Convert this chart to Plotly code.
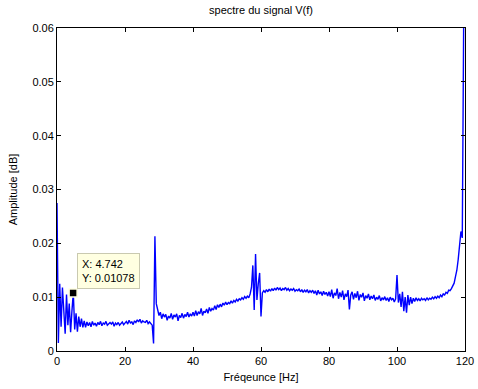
import plotly.graph_objects as go

freq_step_hz = 0.4
amplitude = [
    0.0275, 0.0015, 0.0125, 0.0045, 0.0118, 0.0060, 0.0032, 0.0105, 0.0048, 0.0088,
    0.0035, 0.0075, 0.0108, 0.0040, 0.0070, 0.0036, 0.0064, 0.0045, 0.0060, 0.0044,
    0.0056, 0.0044, 0.0054, 0.0047, 0.0053, 0.0045, 0.0055, 0.0048, 0.0052, 0.0046,
    0.0053, 0.0049, 0.0055, 0.0047, 0.0052, 0.0050, 0.0055, 0.0048, 0.0051, 0.0053,
    0.0050, 0.0054, 0.0046, 0.0052, 0.0049, 0.0053, 0.0048, 0.0051, 0.0054, 0.0049,
    0.0052, 0.0055, 0.0050, 0.0057, 0.0052, 0.0054, 0.0049, 0.0056, 0.0053, 0.0058,
    0.0054, 0.0059, 0.0052, 0.0056, 0.0054, 0.0053, 0.0057, 0.0051, 0.0054, 0.0050,
    0.0048, 0.0014, 0.0213, 0.0088, 0.0074, 0.0066, 0.0072, 0.0060, 0.0069, 0.0063,
    0.0068, 0.0057, 0.0065, 0.0061, 0.0070, 0.0059, 0.0067, 0.0063, 0.0069, 0.0056,
    0.0066, 0.0062, 0.0070, 0.0061, 0.0068, 0.0064, 0.0072, 0.0063, 0.0069, 0.0065,
    0.0072, 0.0065, 0.0075, 0.0066, 0.0073, 0.0069, 0.0079, 0.0066, 0.0074, 0.0071,
    0.0078, 0.0070, 0.0081, 0.0074, 0.0079, 0.0076, 0.0084, 0.0077, 0.0086, 0.0081,
    0.0087, 0.0082, 0.0089, 0.0085, 0.0091, 0.0086, 0.0090, 0.0088, 0.0093, 0.0089,
    0.0094, 0.0091, 0.0096, 0.0093, 0.0097, 0.0095, 0.0099, 0.0096, 0.0101, 0.0098,
    0.0102, 0.0099, 0.0106, 0.0118, 0.0159, 0.0076, 0.0180, 0.0095, 0.0125, 0.0145,
    0.0064, 0.0108, 0.0112, 0.0109, 0.0114, 0.0110, 0.0115, 0.0111, 0.0116, 0.0112,
    0.0117, 0.0113, 0.0118, 0.0114, 0.0117, 0.0112, 0.0116, 0.0114, 0.0118, 0.0113,
    0.0116, 0.0112, 0.0115, 0.0113, 0.0116, 0.0111, 0.0114, 0.0112, 0.0115, 0.0110,
    0.0114, 0.0109, 0.0113, 0.0110, 0.0114, 0.0108, 0.0112, 0.0109, 0.0113, 0.0107,
    0.0112, 0.0104, 0.0113, 0.0106, 0.0110, 0.0103, 0.0111, 0.0105, 0.0109, 0.0102,
    0.0110, 0.0101, 0.0114, 0.0098, 0.0108, 0.0103, 0.0116, 0.0097, 0.0109, 0.0100,
    0.0112, 0.0095, 0.0106, 0.0101, 0.0113, 0.0077, 0.0104, 0.0110, 0.0096, 0.0107,
    0.0099, 0.0111, 0.0094, 0.0105, 0.0100, 0.0108, 0.0093, 0.0103, 0.0098, 0.0106,
    0.0095, 0.0102, 0.0097, 0.0104, 0.0094, 0.0100, 0.0096, 0.0103, 0.0093, 0.0099,
    0.0095, 0.0101, 0.0094, 0.0099, 0.0092, 0.0100, 0.0095, 0.0098, 0.0091, 0.0097,
    0.0141, 0.0090, 0.0106, 0.0082, 0.0110, 0.0074, 0.0100, 0.0071, 0.0104, 0.0085,
    0.0100, 0.0088, 0.0098, 0.0092, 0.0099, 0.0094, 0.0097, 0.0093, 0.0098, 0.0095,
    0.0097, 0.0094, 0.0099, 0.0095, 0.0098, 0.0096, 0.0100, 0.0097, 0.0101, 0.0098,
    0.0102, 0.0099, 0.0104, 0.0101, 0.0106, 0.0104, 0.0109, 0.0107, 0.0113, 0.0112,
    0.0116, 0.0120, 0.0126, 0.0138, 0.0150, 0.0170, 0.0200, 0.0222, 0.0210, 0.0600,
    0.0620,
]
frequency = [round(i * freq_step_hz, 1) for i in range(len(amplitude))]

datatip_x = 4.742
datatip_y = 0.01078

x_ticks = [0, 20, 40, 60, 80, 100, 120]
y_ticks = [0, 0.01, 0.02, 0.03, 0.04, 0.05, 0.06]
y_tick_labels = ["0", "0.01", "0.02", "0.03", "0.04", "0.05", "0.06"]

FONT = "Liberation Sans, Arial, Helvetica, sans-serif"

fig = go.Figure()
fig.add_trace(go.Scatter(
    x=frequency, y=amplitude, mode="lines",
    line=dict(color="#0000FF", width=1.4),
    showlegend=False, hoverinfo="skip",
))
fig.add_trace(go.Scatter(
    x=[datatip_x], y=[datatip_y], mode="markers",
    marker=dict(symbol="square", size=8, color="black",
                line=dict(color="#FFFFE1", width=1.5)),
    showlegend=False, hoverinfo="skip",
))
fig.add_annotation(
    x=datatip_x, y=datatip_y, xref="x", yref="y",
    text="X: 4.742<br>Y: 0.01078", showarrow=False,
    xanchor="left", yanchor="bottom", xshift=4, yshift=4,
    align="left", font=dict(family=FONT, size=11, color="black"),
    bgcolor="#FFFFE1", bordercolor="#C9C9B0", borderwidth=1, borderpad=4,
)

axis_common = dict(
    showgrid=False, zeroline=False, showline=True, linecolor="black",
    linewidth=1, mirror="ticks", ticks="inside", ticklen=4,
    tickcolor="black", automargin=False,
    tickfont=dict(family=FONT, size=11, color="black"),
)
fig.update_xaxes(range=[0, 120], tickvals=x_ticks,
                 title=dict(text="Fréqeunce [Hz]", standoff=7,
                            font=dict(family=FONT, size=11, color="black")),
                 **axis_common)
fig.update_yaxes(range=[0, 0.06], tickvals=y_ticks, ticktext=y_tick_labels,
                 title=dict(text="Amplitude [dB]", standoff=12,
                            font=dict(family=FONT, size=11, color="black")),
                 **axis_common)

fig.update_layout(
    width=478, height=389,
    margin=dict(l=57, r=13, t=28, b=38),
    paper_bgcolor="white", plot_bgcolor="white",
    title=dict(text="spectre du signal V(f)", x=0.5, xref="paper",
               y=1 - 10 / 389, yref="container", yanchor="middle",
               font=dict(family=FONT, size=11, color="black")),
)

fig.write_html(
    "out.html",
    config={"displayModeBar": False, "staticPlot": True},
    post_script="document.body.style.margin='0';document.body.style.overflow='hidden';",
)
